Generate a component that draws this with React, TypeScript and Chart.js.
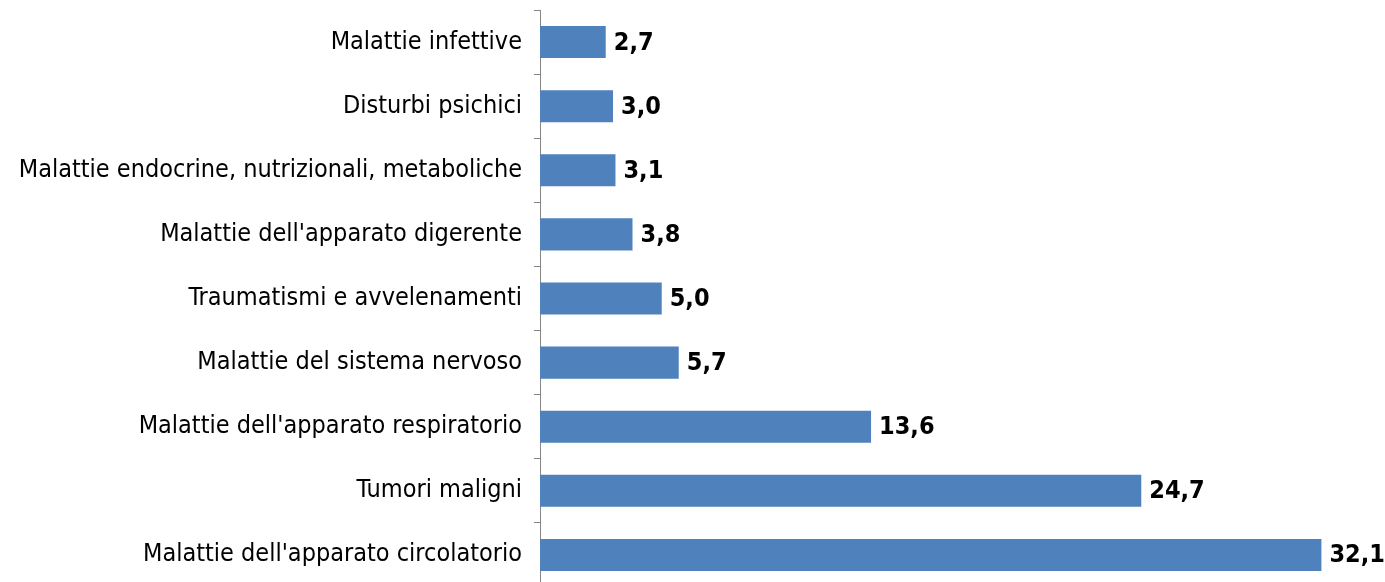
import React, { useEffect, useRef } from "react";
import { Chart, registerables } from "chart.js";

Chart.register(...registerables);

const categories = [
  "Malattie infettive",
  "Disturbi psichici",
  "Malattie endocrine, nutrizionali, metaboliche",
  "Malattie dell'apparato digerente",
  "Traumatismi e avvelenamenti",
  "Malattie del sistema nervoso",
  "Malattie dell'apparato respiratorio",
  "Tumori maligni",
  "Malattie dell'apparato circolatorio",
];
const values = [2.7, 3.0, 3.1, 3.8, 5.0, 5.7, 13.6, 24.7, 32.1];

const labelFont = "'DejaVu Sans Condensed', 'DejaVu Sans', sans-serif";

const valueLabels = {
  id: "valueLabels",
  afterDatasetsDraw(chart: any) {
    const ctx = chart.ctx;
    const meta = chart.getDatasetMeta(0);
    ctx.save();
    ctx.font = `bold 25px ${labelFont}`;
    ctx.fillStyle = "#000";
    ctx.textAlign = "left";
    ctx.textBaseline = "middle";
    meta.data.forEach((bar: any, i: number) => {
      const txt = values[i].toFixed(1).replace(".", ",");
      ctx.fillText(txt, bar.x + 8, bar.y + 1);
    });
    ctx.restore();
  },
};

export default function App() {
  const ref = useRef<HTMLCanvasElement>(null);
  useEffect(() => {
    document.body.style.margin = "0";
    const chart = new Chart(ref.current!, {
      type: "bar",
      data: {
        labels: categories,
        datasets: [
          {
            data: values,
            backgroundColor: "#4F81BD",
            barPercentage: 0.5,
            categoryPercentage: 1,
          },
        ],
      },
      options: {
        indexAxis: "y",
        animation: false,
        responsive: false,
        layout: { padding: { top: 10, bottom: 13, left: 0, right: 8 } },
        plugins: { legend: { display: false }, tooltip: { enabled: false } },
        scales: {
          x: { display: false, min: 0, max: 35 },
          y: {
            afterFit(scale: any) {
              scale.width = 540;
              scale.paddingTop = 0;
              scale.paddingBottom = 0;
            },
            border: { display: true, color: "#868686", width: 1 },
            grid: {
              display: true,
              drawOnChartArea: false,
              drawTicks: true,
              tickLength: 6,
              color: "#868686",
              offset: true,
            },
            ticks: {
              color: "#000",
              padding: 12,
              font: { family: labelFont, size: 25 },
            },
          },
        },
      },
      plugins: [valueLabels],
    });
    return () => chart.destroy();
  }, []);
  return (
    <div style={{ width: 1385, height: 582, overflow: "hidden" }}>
      <canvas ref={ref} width={1400} height={600} style={{ display: "block" }} />
    </div>
  );
}
